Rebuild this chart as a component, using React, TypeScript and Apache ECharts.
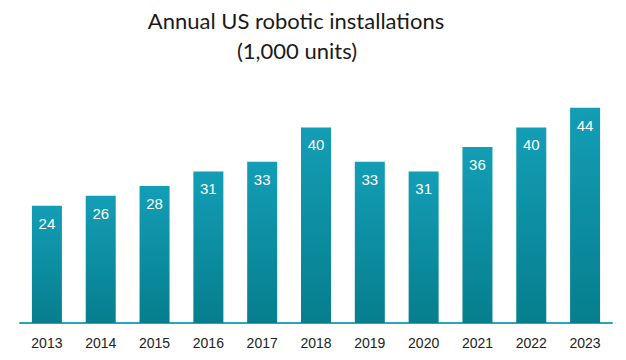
import React, { useEffect, useRef } from "react";
import * as echarts from "echarts";

const years = ["2013", "2014", "2015", "2016", "2017", "2018", "2019", "2020", "2021", "2022", "2023"];
const installs = [24, 26, 28, 31, 33, 40, 33, 31, 36, 40, 44];
const titleLines = ["Annual US robotic installations", "(1,000 units)"];

export default function App() {
  const ref = useRef<HTMLDivElement>(null);
  useEffect(() => {
    const chart = echarts.init(ref.current!, null, { renderer: "svg" });
    const titleStyle = {
      fontFamily: "Lato",
      fontWeight: "normal",
      fontSize: 22,
      fill: "#1a1a1a",
      textAlign: "center",
      textVerticalAlign: "middle",
    };
    chart.setOption({
      animation: false,
      backgroundColor: "#ffffff",
      graphic: [
        { type: "text", x: 296, y: 20, style: { ...titleStyle, text: titleLines[0] } },
        { type: "text", x: 297, y: 50, style: { ...titleStyle, text: titleLines[1] } },
      ],
      grid: { left: 20, right: 14, top: 78.5, bottom: 37, containLabel: false },
      xAxis: {
        type: "category",
        data: years,
        axisLine: { lineStyle: { color: "#2aa6b8", width: 2 } },
        axisTick: { show: false },
        axisLabel: {
          color: "#222222",
          fontSize: 14,
          fontFamily: "Liberation Sans",
          margin: 13,
        },
      },
      yAxis: {
        type: "value",
        min: 0,
        max: 50,
        show: false,
        splitLine: { show: false },
      },
      series: [
        {
          type: "bar",
          data: installs,
          barWidth: 30,
          itemStyle: {
            color: new echarts.graphic.LinearGradient(0, 0, 0, 1, [
              { offset: 0, color: "#139eb6" },
              { offset: 1, color: "#067e8d" },
            ]),
          },
          label: {
            show: true,
            position: "insideTop",
            distance: 10,
            color: "#ffffff",
            fontSize: 15,
            fontFamily: "Liberation Sans",
          },
        },
      ],
    });
    return () => chart.dispose();
  }, []);
  return <div ref={ref} style={{ width: 626, height: 360, position: "absolute", left: 0, top: 0 }} />;
}
